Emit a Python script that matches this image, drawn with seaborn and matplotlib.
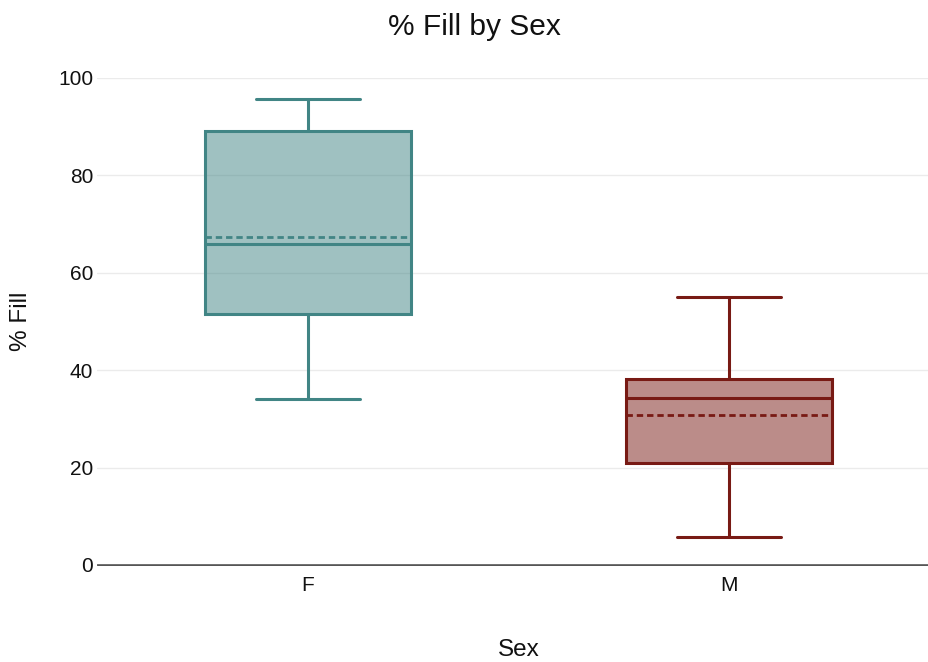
import pandas as pd
import matplotlib
matplotlib.use("Agg")
import matplotlib.pyplot as plt
import seaborn as sns
from matplotlib.colors import to_rgba

# box statistics: min, Q1, median, Q3, max
sexes = ["F", "M"]
f_fill = [34.1, 51.5, 65.9, 89.2, 95.7]
m_fill = [5.7, 20.9, 34.3, 38.2, 55.0]
edge_colors = {"F": "#418585", "M": "#781A14"}
y_ticks = [0, 20, 40, 60, 80, 100]

df = pd.DataFrame({
    "Sex": ["F"] * len(f_fill) + ["M"] * len(m_fill),
    "% Fill": f_fill + m_fill,
})

sns.set_theme(style="whitegrid")
plt.rcParams["font.family"] = ["Liberation Sans", "DejaVu Sans"]
text_color = "#111111"

fig = plt.figure(figsize=(9.29, 6.62), dpi=100)
ax = fig.add_axes([97.5 / 929, 1 - 565 / 662, 1 - 97.5 / 929, (565 - 78) / 662])

for sex in sexes:
    edge = edge_colors[sex]
    sns.boxplot(
        data=df[df["Sex"] == sex], x="Sex", y="% Fill", order=sexes,
        color=edge, linecolor=edge, linewidth=2.2, saturation=1,
        width=0.49, whis=(0, 100), showmeans=True, meanline=True,
        meanprops=dict(color=edge, linestyle=(0, (2.3, 1.4)), linewidth=2),
        capwidths=0.245, ax=ax,
    )
    ax.patches[-1].set_facecolor(to_rgba(edge, 0.5))

ax.set_xlim(-0.5, (929 - 308) / 421)
ax.set_ylim(0, 100)
ax.set_yticks(y_ticks)
ax.set_axisbelow(True)
ax.xaxis.grid(False)
ax.yaxis.grid(True, color="#EBEBEB", linewidth=1)

for side in ["left", "top", "right"]:
    ax.spines[side].set_visible(False)
ax.spines["bottom"].set_color("#444444")
ax.spines["bottom"].set_linewidth(1.3)
ax.spines["bottom"].set_zorder(0.5)

ax.tick_params(axis="both", length=0, labelsize=15, colors=text_color)
ax.tick_params(axis="x", pad=8)
ax.tick_params(axis="y", pad=3)

ax.set_xlabel("Sex", fontsize=17.5, color=text_color)
ax.set_ylabel("% Fill", fontsize=17.5, color=text_color)
ax.xaxis.set_label_coords((519 - 97.5) / (929 - 97.5), -(650 - 565) / (565 - 78), transform=ax.transAxes)
ax.xaxis.label.set_va("center")
ax.yaxis.set_label_coords(-(97.5 - 21) / (929 - 97.5), (565 - 321) / (565 - 78))
ax.yaxis.label.set_va("center")

fig.text(474.5 / 929, 1 - 27 / 662, "% Fill by Sex", fontsize=21.5,
         color=text_color, ha="center", va="center")

fig.savefig("out.png", dpi=100)
